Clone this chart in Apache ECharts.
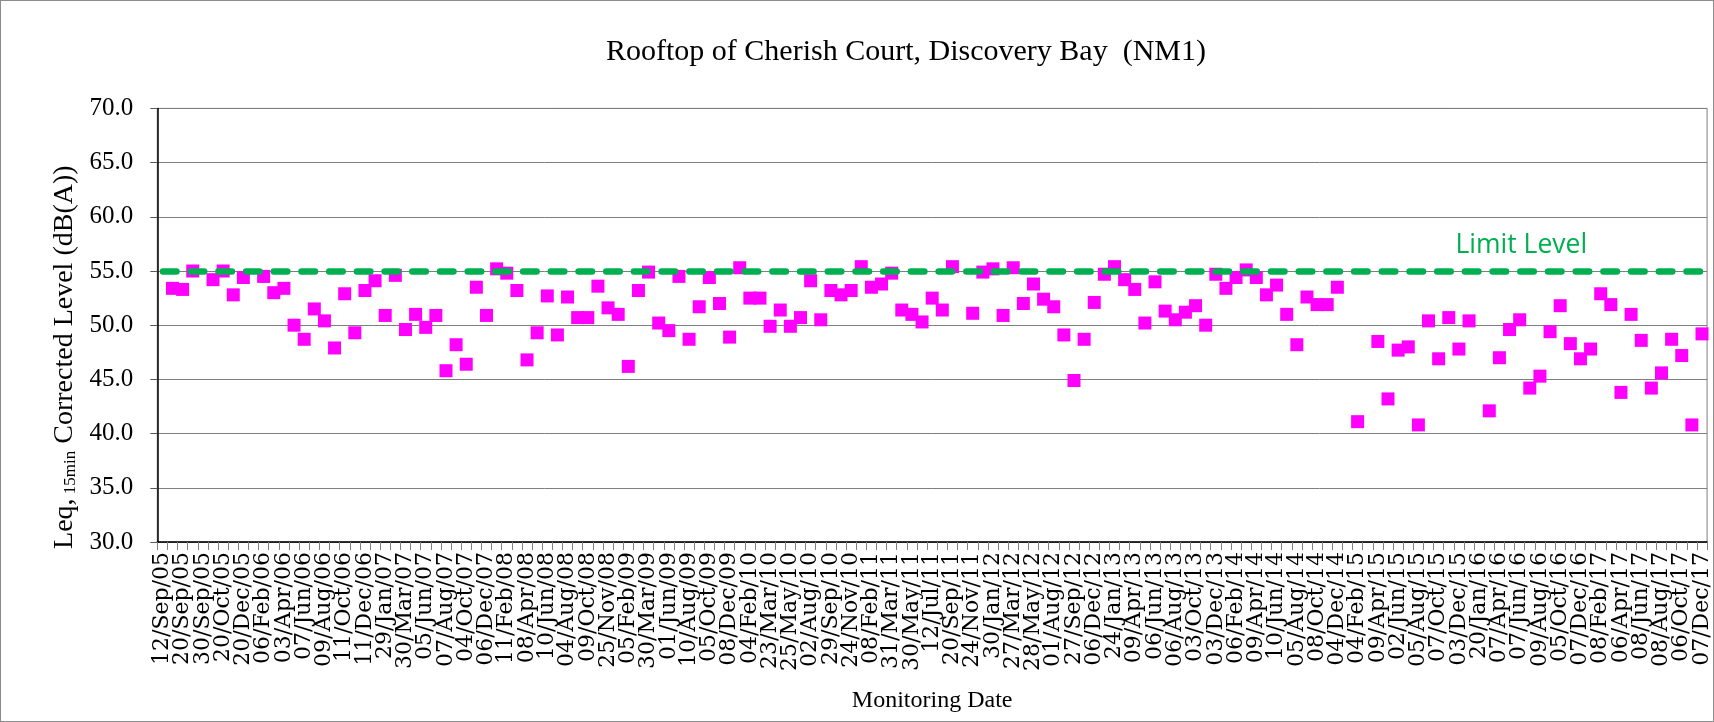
<!DOCTYPE html>
<html>
<head>
<meta charset="utf-8">
<title>NM1 Rooftop of Cherish Court</title>
<script src="https://cdn.jsdelivr.net/npm/echarts@6/dist/echarts.min.js"></script>
<style>
  html, body { margin: 0; padding: 0; background: #fff; }
  #chart { width: 1714px; height: 722px; box-sizing: border-box; border: 1px solid #8c8c8c; }
</style>
</head>
<body>
<div id="chart"></div>
<script>
// labelled monitoring dates (every 2nd category carries a label)
const dateLabels = [
  '12/Sep/05', '20/Sep/05', '30/Sep/05', '20/Oct/05', '20/Dec/05', '06/Feb/06', '03/Apr/06',
  '07/Jun/06', '09/Aug/06', '11/Oct/06', '11/Dec/06', '29/Jan/07', '30/Mar/07', '05/Jun/07',
  '07/Aug/07', '04/Oct/07', '06/Dec/07', '11/Feb/08', '08/Apr/08', '10/Jun/08', '04/Aug/08',
  '09/Oct/08', '25/Nov/08', '05/Feb/09', '30/Mar/09', '01/Jun/09', '10/Aug/09', '05/Oct/09',
  '08/Dec/09', '04/Feb/10', '23/Mar/10', '25/May/10', '02/Aug/10', '29/Sep/10', '24/Nov/10',
  '08/Feb/11', '31/Mar/11', '30/May/11', '12/Jul/11', '20/Sep/11', '24/Nov/11', '30/Jan/12',
  '27/Mar/12', '28/May/12', '01/Aug/12', '27/Sep/12', '06/Dec/12', '24/Jan/13', '09/Apr/13',
  '06/Jun/13', '06/Aug/13', '03/Oct/13', '03/Dec/13', '06/Feb/14', '09/Apr/14', '10/Jun/14',
  '05/Aug/14', '08/Oct/14', '04/Dec/14', '04/Feb/15', '09/Apr/15', '02/Jun/15', '05/Aug/15',
  '07/Oct/15', '03/Dec/15', '20/Jan/16', '07/Apr/16', '07/Jun/16', '09/Aug/16', '05/Oct/16',
  '07/Dec/16', '08/Feb/17', '06/Apr/17', '08/Jun/17', '08/Aug/17', '06/Oct/17', '07/Dec/17'
];

// Leq 15min corrected level, dB(A), one per category (null = no result)
const leqValues = [
  null, 53.4, 53.3, 55.0, null, 54.2, 55.0, 52.8, 54.4, null,
  54.5, 53.0, 53.4, 50.0, 48.7, 51.5, 50.4, 47.9, 52.9, 49.3,
  53.2, 54.1, 50.9, 54.6, 49.6, 51.0, 49.8, 50.9, 45.8, 48.2,
  46.4, 53.5, 50.9, 55.2, 54.8, 53.2, 46.8, 49.3, 52.7, 49.1,
  52.6, 50.7, 50.7, 53.6, 51.6, 51.0, 46.2, 53.2, 54.9, 50.2,
  49.5, 54.5, 48.7, 51.7, 54.4, 52.0, 48.9, 55.3, 52.5, 52.5,
  49.9, 51.4, 49.9, 50.7, 54.1, 50.5, 53.2, 52.8, 53.2, 55.4,
  53.5, 53.8, 54.8, 51.4, 51.0, 50.3, 52.5, 51.4, 55.4, null,
  51.1, 54.9, 55.2, 50.9, 55.3, 52.0, 53.8, 52.4, 51.7, 49.1,
  44.9, 48.7, 52.1, 54.7, 55.4, 54.2, 53.3, 50.2, 54.0, 51.3,
  50.5, 51.2, 51.8, 50.0, 54.7, 53.4, 54.4, 55.1, 54.4, 52.8,
  53.7, 51.0, 48.2, 52.6, 51.9, 51.9, 53.5, null, 41.1, null,
  48.5, 43.2, 47.7, 48.0, 40.8, 50.4, 46.9, 50.7, 47.8, 50.4,
  null, 42.1, 47.0, 49.6, 50.5, 44.2, 45.3, 49.4, 51.8, 48.3,
  46.9, 47.8, 52.9, 51.9, 43.8, 51.0, 48.6, 44.2, 45.6, 48.7,
  47.2, 40.8, 49.2
];

const limitLevel = 55;
const yMin = 30;
const yMax = 70;
const yStep = 5;

// unlabelled categories sit between the labelled dates
const categories = [];
dateLabels.forEach(function (d, i) {
  categories.push(d);
  if (i < dateLabels.length - 1) categories.push('');
});

const serif = 'Liberation Serif';
const chart = echarts.init(document.getElementById('chart'));

chart.setOption({
  animation: false,
  backgroundColor: '#fff',
  title: {
    text: 'Rooftop of Cherish Court, Discovery Bay  (NM1)',
    left: 905,
    top: 36,
    padding: 0,
    textAlign: 'center',
    textStyle: { fontFamily: serif, fontSize: 30, fontWeight: 'normal', color: '#000' }
  },
  grid: {
    left: 156.3,
    right: 5.7,
    top: 107.4,
    bottom: 179,
    show: true,
    borderColor: '#7f7f7f',
    borderWidth: 1
  },
  xAxis: {
    type: 'category',
    data: categories,
    boundaryGap: true,
    axisLine: { lineStyle: { color: '#000', width: 1.5 } },
    axisTick: { show: true, interval: 0, length: 8, lineStyle: { color: '#808080' } },
    axisLabel: {
      interval: 0, // blank categories give the every-other-date look
      rotate: 90,
      margin: 10,
      fontFamily: 'DejaVu Serif',
      fontSize: 22,
      color: '#000'
    },
    splitLine: { show: false },
    name: 'Monitoring Date',
    nameLocation: 'middle',
    nameGap: 147,
    nameTextStyle: { fontFamily: serif, fontSize: 24, color: '#000' }
  },
  yAxis: {
    type: 'value',
    min: yMin,
    max: yMax,
    interval: yStep,
    axisLine: { show: true, lineStyle: { color: '#000', width: 1.5 } },
    axisTick: { show: true, length: 7, lineStyle: { color: '#595959' } },
    axisLabel: {
      formatter: function (v) { return v.toFixed(1); },
      margin: 24,
      fontFamily: serif,
      fontSize: 25,
      color: '#000'
    },
    splitLine: { lineStyle: { color: '#7f7f7f', width: 1 } },
    name: 'Leq,{sub| 15min} Corrected Level (dB(A))',
    nameLocation: 'middle',
    nameRotate: 90,
    nameGap: 78,
    nameTextStyle: {
      fontFamily: serif,
      fontSize: 28,
      color: '#000',
      padding: [0, 64, 0, 0],
      rich: {
        sub: { fontFamily: serif, fontSize: 17, color: '#000', padding: [11, 0, 0, 0] }
      }
    }
  },
  series: [
    {
      name: 'Limit Level',
      type: 'line',
      data: [],
      z: 1,
      markLine: {
        silent: true,
        symbol: 'none',
        animation: false,
        data: [{ yAxis: limitLevel }],
        lineStyle: {
          color: '#00B050',
          width: 6.5,
          type: [13.5, 14.2],
          dashOffset: 22,
          cap: 'round'
        },
        label: {
          show: true,
          position: 'insideEndTop',
          formatter: 'Limit Level',
          color: '#00B050',
          fontFamily: 'Open Sans',
          fontSize: 26.5,
          distance: 12,
          padding: [0, 108, 0, 0]
        }
      }
    },
    {
      name: 'Leq',
      type: 'scatter',
      z: 3,
      symbol: 'rect',
      symbolSize: 13,
      itemStyle: { color: '#FF00FF', opacity: 1 },
      data: leqValues.map(function (v, i) { return [i, v]; })
    }
  ]
});
</script>
</body>
</html>
